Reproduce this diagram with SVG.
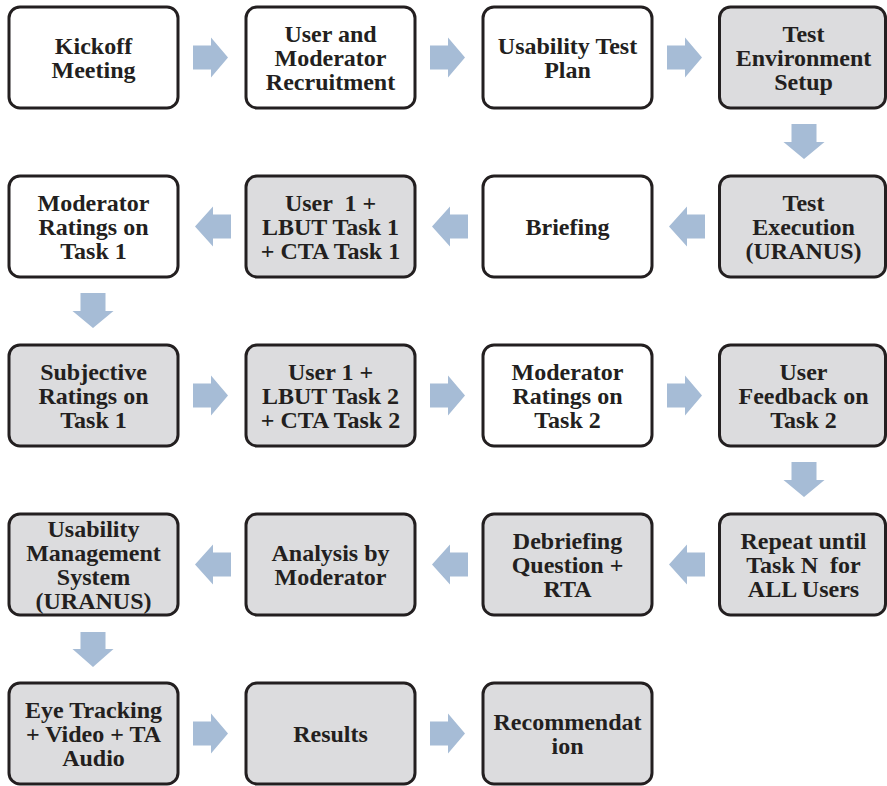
<svg xmlns="http://www.w3.org/2000/svg" width="887" height="786" viewBox="0 0 887 786">
<style>
.box{stroke:#231f20;stroke-width:3;}
.w{fill:#ffffff;}
.g{fill:#dcdcde;}
text{font-family:"Liberation Serif","Times New Roman",serif;font-weight:bold;font-size:24px;fill:#231f20;text-anchor:middle;white-space:pre;}
.arr{fill:#a6bcd6;}
</style>
<rect width="887" height="786" fill="#ffffff"/>
<g id="connectors">
<!-- row 1 right arrows (cy 57.5) -->
<polygon class="arr" points="193,45.5 211,45.5 211,37.5 228,57.5 211,77.5 211,69.5 193,69.5"/>
<polygon class="arr" points="430,45.5 448,45.5 448,37.5 465,57.5 448,77.5 448,69.5 430,69.5"/>
<polygon class="arr" points="667,45.5 685,45.5 685,37.5 702,57.5 685,77.5 685,69.5 667,69.5"/>
<!-- down col4 row1->row2 -->
<polygon class="arr" points="791.5,124 816.5,124 816.5,142 824.5,142 804,159 783.5,142 791.5,142"/>
<!-- row 2 left arrows (cy 226.5) -->
<polygon class="arr" points="195,226.5 213,206.5 213,214.5 231,214.5 231,238.5 213,238.5 213,246.5"/>
<polygon class="arr" points="432,226.5 450,206.5 450,214.5 468,214.5 468,238.5 450,238.5 450,246.5"/>
<polygon class="arr" points="669,226.5 687,206.5 687,214.5 705,214.5 705,238.5 687,238.5 687,246.5"/>
<!-- down col1 row2->row3 -->
<polygon class="arr" points="80.5,293 105.5,293 105.5,311 113.5,311 93,328 72.5,311 80.5,311"/>
<!-- row 3 right arrows (cy 395.5) -->
<polygon class="arr" points="193,383.5 211,383.5 211,375.5 228,395.5 211,415.5 211,407.5 193,407.5"/>
<polygon class="arr" points="430,383.5 448,383.5 448,375.5 465,395.5 448,415.5 448,407.5 430,407.5"/>
<polygon class="arr" points="667,383.5 685,383.5 685,375.5 702,395.5 685,415.5 685,407.5 667,407.5"/>
<!-- down col4 row3->row4 -->
<polygon class="arr" points="791.5,462 816.5,462 816.5,480 824.5,480 804,497 783.5,480 791.5,480"/>
<!-- row 4 left arrows (cy 564.5) -->
<polygon class="arr" points="195,564.5 213,544.5 213,552.5 231,552.5 231,576.5 213,576.5 213,584.5"/>
<polygon class="arr" points="432,564.5 450,544.5 450,552.5 468,552.5 468,576.5 450,576.5 450,584.5"/>
<polygon class="arr" points="669,564.5 687,544.5 687,552.5 705,552.5 705,576.5 687,576.5 687,584.5"/>
<!-- down col1 row4->row5 -->
<polygon class="arr" points="80.5,632 105.5,632 105.5,649 113.5,649 93,667 72.5,649 80.5,649"/>
<!-- row 5 right arrows (cy 733.5) -->
<polygon class="arr" points="193,721.5 211,721.5 211,713.5 228,733.5 211,753.5 211,745.5 193,745.5"/>
<polygon class="arr" points="430,721.5 448,721.5 448,713.5 465,733.5 448,753.5 448,745.5 430,745.5"/>
</g>
<!-- Row 1 -->
<g id="n1"><rect class="box w" x="9" y="7" width="169" height="101" rx="11"/><text x="93.5"><tspan x="93.5" y="53.5">Kickoff</tspan><tspan x="93.5" y="77.5">Meeting</tspan></text></g>
<g id="n2"><rect class="box w" x="246" y="7" width="169" height="101" rx="11"/><text><tspan x="330.5" y="41.5">User and</tspan><tspan x="330.5" y="65.5">Moderator</tspan><tspan x="330.5" y="89.5">Recruitment</tspan></text></g>
<g id="n3"><rect class="box w" x="483" y="7" width="169" height="101" rx="11"/><text><tspan x="567.5" y="53.5">Usability Test</tspan><tspan x="567.5" y="77.5">Plan</tspan></text></g>
<g id="n4"><rect class="box g" x="719.5" y="7" width="166" height="101" rx="11"/><text><tspan x="803.5" y="41.5">Test</tspan><tspan x="803.5" y="65.5">Environment</tspan><tspan x="803.5" y="89.5">Setup</tspan></text></g>
<!-- Row 2 -->
<g id="n8"><rect class="box w" x="9" y="176" width="169" height="101" rx="11"/><text><tspan x="93.5" y="210.5">Moderator</tspan><tspan x="93.5" y="234.5">Ratings on</tspan><tspan x="93.5" y="258.5">Task 1</tspan></text></g>
<g id="n7"><rect class="box g" x="246" y="176" width="169" height="101" rx="11"/><text><tspan x="330.5" y="210.5">User  1 +</tspan><tspan x="330.5" y="234.5">LBUT Task 1</tspan><tspan x="330.5" y="258.5">+ CTA Task 1</tspan></text></g>
<g id="n6"><rect class="box w" x="483" y="176" width="169" height="101" rx="11"/><text><tspan x="567.5" y="234.5">Briefing</tspan></text></g>
<g id="n5"><rect class="box g" x="719.5" y="176" width="166" height="101" rx="11"/><text><tspan x="803.5" y="210.5">Test</tspan><tspan x="803.5" y="234.5">Execution</tspan><tspan x="803.5" y="258.5">(URANUS)</tspan></text></g>
<!-- Row 3 -->
<g id="n9"><rect class="box g" x="9" y="345" width="169" height="101" rx="11"/><text><tspan x="93.5" y="379.5">Subjective</tspan><tspan x="93.5" y="403.5">Ratings on</tspan><tspan x="93.5" y="427.5">Task 1</tspan></text></g>
<g id="n10"><rect class="box g" x="246" y="345" width="169" height="101" rx="11"/><text><tspan x="330.5" y="379.5">User 1 +</tspan><tspan x="330.5" y="403.5">LBUT Task 2</tspan><tspan x="330.5" y="427.5">+ CTA Task 2</tspan></text></g>
<g id="n11"><rect class="box w" x="483" y="345" width="169" height="101" rx="11"/><text><tspan x="567.5" y="379.5">Moderator</tspan><tspan x="567.5" y="403.5">Ratings on</tspan><tspan x="567.5" y="427.5">Task 2</tspan></text></g>
<g id="n12"><rect class="box g" x="719.5" y="345" width="166" height="101" rx="11"/><text><tspan x="803.5" y="379.5">User</tspan><tspan x="803.5" y="403.5">Feedback on</tspan><tspan x="803.5" y="427.5">Task 2</tspan></text></g>
<!-- Row 4 -->
<g id="n16"><rect class="box g" x="9" y="514" width="169" height="101" rx="11"/><text><tspan x="93.5" y="536.5">Usability</tspan><tspan x="93.5" y="560.5">Management</tspan><tspan x="93.5" y="584.5">System</tspan><tspan x="93.5" y="608.5">(URANUS)</tspan></text></g>
<g id="n15"><rect class="box g" x="246" y="514" width="169" height="101" rx="11"/><text><tspan x="330.5" y="560.5">Analysis by</tspan><tspan x="330.5" y="584.5">Moderator</tspan></text></g>
<g id="n14"><rect class="box g" x="483" y="514" width="169" height="101" rx="11"/><text><tspan x="567.5" y="548.5">Debriefing</tspan><tspan x="567.5" y="572.5">Question +</tspan><tspan x="567.5" y="596.5">RTA</tspan></text></g>
<g id="n13"><rect class="box g" x="719.5" y="514" width="166" height="101" rx="11"/><text><tspan x="803.5" y="548.5">Repeat until</tspan><tspan x="803.5" y="572.5">Task N  for</tspan><tspan x="803.5" y="596.5">ALL Users</tspan></text></g>
<!-- Row 5 -->
<g id="n17"><rect class="box g" x="9" y="683" width="169" height="101" rx="11"/><text><tspan x="93.5" y="717.5">Eye Tracking</tspan><tspan x="93.5" y="741.5">+ Video + TA</tspan><tspan x="93.5" y="765.5">Audio</tspan></text></g>
<g id="n18"><rect class="box g" x="246" y="683" width="169" height="101" rx="11"/><text><tspan x="330.5" y="741.5">Results</tspan></text></g>
<g id="n19"><rect class="box g" x="483" y="683" width="169" height="101" rx="11"/><text><tspan x="567.5" y="729.5">Recommendat</tspan><tspan x="567.5" y="753.5">ion</tspan></text></g>
</svg>
